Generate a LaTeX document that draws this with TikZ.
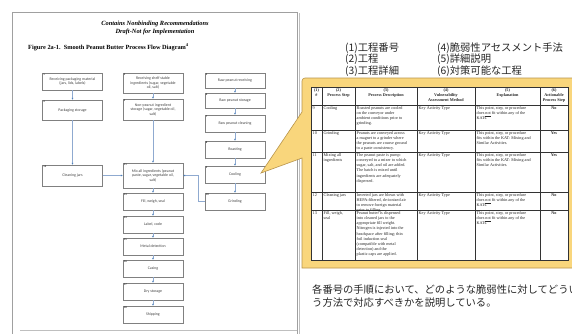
\documentclass[tikz,border=0pt]{standalone}
\usepackage{fontspec}
\setmainfont{Liberation Serif}
\newfontfamily\cjk{Noto Sans CJK JP}
\newfontfamily\calib{Carlito}
\usetikzlibrary{arrows.meta}
\definecolor{callY}{HTML}{F9D67C}
\definecolor{callE}{HTML}{B8944A}
\definecolor{arrL}{HTML}{8FAAD0}
\definecolor{arrH}{HTML}{4F81BD}
\definecolor{pageL}{HTML}{A0A0A0}
\tikzset{
  fbox/.style={draw=black!50, line width=0.35pt, fill=white, minimum width=60pt, inner sep=0pt, align=center, font=\calib\fontsize{3.9}{4.5}\selectfont, text=black!75},
  num/.style={font=\calib\bfseries\fontsize{2.8}{3}\selectfont, anchor=north west, inner sep=0.9pt, text=black!80},
  flow/.style={draw=arrL, line width=0.45pt, -{Latex[length=2pt,width=2pt,color=arrH]}},
  cell/.style={anchor=north west, inner sep=0pt, align=left, font=\fontsize{4.2}{5.1}\selectfont, text=black!85},
  hcell/.style={anchor=north, inner sep=0pt, align=center, font=\bfseries\fontsize{4.2}{4.8}\selectfont, text=black!85},
  jp/.style={anchor=west, inner sep=0pt, align=left, font=\cjk\fontsize{10.3}{11.6}\selectfont, text=black!85},
  pagetxt/.style={inner sep=0pt, font=\bfseries\itshape\fontsize{6.4}{7.6}\selectfont}
}
\newcommand{\notfit}{This point, step, or procedure\\does \underline{not} fit within any of the\\KATs.}
\newcommand{\fitmix}{This point, step, or procedure\\fits within the KAT- Mixing and\\Similar Activities.}
\begin{document}
\begin{tikzpicture}[x=1pt,y=-1pt]
\useasboundingbox (0,0) rectangle (572,333);
\fill[white] (0,0) rectangle (572,333);
% page
\draw[pageL, line width=0.5pt] (12,340) -- (12,12) -- (297,12) -- (297,340);
\draw[black!25, line width=0.8pt] (299,13) -- (299,340);
\draw[black!25, line width=0.5pt] (20,330.5) -- (297,330.5);
\node[pagetxt, align=center] (hdr) at (155,28) {Contains Nonbinding Recommendations\\Draft-Not for Implementation};
\node[pagetxt, anchor=west, font=\bfseries\fontsize{6.3}{7.5}\selectfont] (fig) at (28,47) {Figure 2a-1.\ \ Smooth Peanut Butter Process Flow Diagram\textsuperscript{4}};
% flow boxes
\node[fbox, minimum height=17pt] (b1) at (72.5,81.5) {Receiving packaging material\\(jars, lids, labels)};
\node[fbox, minimum height=20pt] (b2) at (153,83) {Receiving shelf stable\\ingredients (sugar, vegetable\\oil, salt)};
\node[fbox, minimum height=15pt] (b3) at (235,80.5) {Raw peanut receiving};
\node[fbox, minimum height=20pt] (b4) at (72.5,110) {Packaging storage};
\node[fbox, minimum height=21pt] (b5) at (153,109.5) {Non-peanut ingredient\\storage (sugar, vegetable oil,\\salt)};
\node[fbox, minimum height=15pt] (b6) at (235,100.5) {Raw peanut storage};
\node[fbox, minimum height=17pt] (b7) at (235,123.5) {Raw peanut cleaning};
\node[fbox, minimum height=17pt] (b8) at (235,149.5) {Roasting};
\node[fbox, minimum height=17pt] (b9) at (235,174.5) {Cooling};
\node[fbox, minimum height=17pt] (b10) at (235,201.5) {Grinding};
\node[fbox, minimum height=25pt] (b11) at (153,175.5) {Mix all ingredients (peanut\\paste, sugar, vegetable oil,\\salt)};
\node[fbox, minimum height=21pt] (b12) at (72.5,175.5) {Cleaning jars};
\node[fbox, minimum height=17pt] (b13) at (153,201.5) {Fill, weigh, seal};
\node[fbox, minimum height=17pt] (b14) at (153,224.5) {Label, code};
\node[fbox, minimum height=17pt] (b15) at (153,246.5) {Metal detection};
\node[fbox, minimum height=17pt] (b16) at (153,268.5) {Casing};
\node[fbox, minimum height=17pt] (b17) at (153,291.5) {Dry storage};
\node[fbox, minimum height=17pt] (b18) at (153,314.5) {Shipping};
\foreach \i in {1,...,18} {\node[num] (n\i) at (b\i.north west) {\i};}
% connectors
\draw[flow] (b1) -- (b4);
\draw[flow] (b4) -- (b12);
\draw[flow] (b2) -- (b5);
\draw[flow] (b5) -- (b11);
\draw[flow] (b3) -- (b6);
\draw[flow] (b6) -- (b7);
\draw[flow] (b7) -- (b8);
\draw[flow] (b8) -- (b9);
\draw[flow] (b9) -- (b10);
\draw[flow] (b12) -- (b11);
\draw[flow] (b10.west) -- ++(-7,0) |- (b11.east);
\draw[flow] (b11) -- (b13);
\draw[flow] (b13) -- (b14);
\draw[flow] (b14) -- (b15);
\draw[flow] (b15) -- (b16);
\draw[flow] (b16) -- (b17);
\draw[flow] (b17) -- (b18);
% callout
\draw[fill=callY, draw=callE, line width=0.6pt, line join=miter] (302,112) -- (261,173) -- (302,158) -- (302,268) -- (590,268) -- (590,78) -- (305,78) to[out=180,in=90] (302,81) -- cycle;
% table
\fill[white] (311,87) rectangle (568,260);
\draw[black!80, line width=0.5pt] (311,87) rectangle (568,260);
\foreach \y in {105,130,152,192,210} {\draw[black!80, line width=0.4pt] (311,\y) -- (568,\y);}
\foreach \x in {322,355,417,475,540} {\draw[black!80, line width=0.4pt] (\x,87) -- (\x,260);}
\node[hcell] (h1) at (316.5,88.5) {(1)\\\#};
\node[hcell] (h2) at (338.5,88.5) {(2)\\Process Step};
\node[hcell] (h3) at (386,88.5) {(3)\\Process Description};
\node[hcell] (h4) at (446,88.5) {(4)\\Vulnerability\\Assessment Method};
\node[hcell] (h5) at (507.5,88.5) {(5)\\Explanation};
\node[hcell] (h6) at (554,88.5) {(6)\\Actionable\\Process Step};
\begin{scope}
\clip (311,87) rectangle (568,260);
\node[cell] (r9a) at (312.5,106.5) {9};
\node[cell] (r9b) at (323.5,106.5) {Cooling};
\node[cell] (r9c) at (356.5,106.5) {Roasted peanuts are cooled\\on the conveyor under\\ambient conditions prior to\\grinding.};
\node[cell] (r9d) at (418.5,106.5) {Key Activity Type};
\node[cell] (r9e) at (476.5,106.5) {\notfit};
\node[hcell] (r9f) at (554,106.5) {No};
\node[cell] (r10a) at (312.5,131.5) {10};
\node[cell] (r10b) at (323.5,131.5) {Grinding};
\node[cell] (r10c) at (356.5,131.5) {Peanuts are conveyed across\\a magnet to a grinder where\\the peanuts are course ground\\to a paste consistency.};
\node[cell] (r10d) at (418.5,131.5) {Key Activity Type};
\node[cell] (r10e) at (476.5,131.5) {\fitmix};
\node[hcell] (r10f) at (554,131.5) {Yes};
\node[cell] (r11a) at (312.5,153.5) {11};
\node[cell] (r11b) at (323.5,153.5) {Mixing all\\ingredients};
\node[cell] (r11c) at (356.5,153.5) {The peanut paste is pump-\\conveyed to a mixer to which\\sugar, salt, and oil are added.\\The batch is mixed until\\ingredients are adequately\\dispersed.};
\node[cell] (r11d) at (418.5,153.5) {Key Activity Type};
\node[cell] (r11e) at (476.5,153.5) {\fitmix};
\node[hcell] (r11f) at (554,153.5) {Yes};
\node[cell] (r12a) at (312.5,193.5) {12};
\node[cell] (r12b) at (323.5,193.5) {Cleaning jars};
\node[cell] (r12c) at (356.5,193.5) {Inverted jars are blown with\\HEPA-filtered, de-ionized air\\to remove foreign material\\prior to filling.};
\node[cell] (r12d) at (418.5,193.5) {Key Activity Type};
\node[cell] (r12e) at (476.5,193.5) {\notfit};
\node[hcell] (r12f) at (554,193.5) {No};
\node[cell] (r13a) at (312.5,211.5) {13};
\node[cell] (r13b) at (323.5,211.5) {Fill, weigh,\\seal};
\node[cell] (r13c) at (356.5,211.5) {Peanut butter is dispensed\\into cleaned jars to the\\appropriate fill weight.\\Nitrogen is injected into the\\headspace after filling; thin\\foil induction seal\\(compatible with metal\\detection) and the\\plastic caps are applied.};
\node[cell] (r13d) at (418.5,211.5) {Key Activity Type};
\node[cell] (r13e) at (476.5,211.5) {\notfit};
\node[hcell] (r13f) at (554,211.5) {No};
\end{scope}
% Japanese labels
\node[jp] (jl1) at (345,59.5) {(1)工程番号\\(2)工程\\(3)工程詳細};
\node[jp] (jl2) at (437,59.5) {(4)脆弱性アセスメント手法\\(5)詳細説明\\(6)対策可能な工程};
\node[jp, font=\cjk\fontsize{10.3}{12.2}\selectfont] (jb) at (312,296) {各番号の手順において、どのような脆弱性に対してどうい\\う方法で対応すべきかを説明している。};
\end{tikzpicture}
\end{document}
